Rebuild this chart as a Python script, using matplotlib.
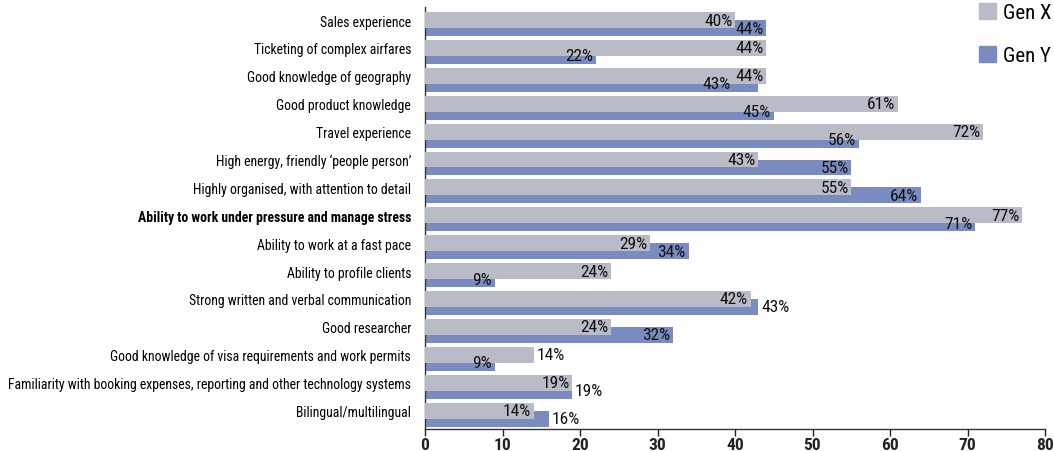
import matplotlib
matplotlib.use("Agg")
import matplotlib.pyplot as plt
from matplotlib import font_manager
from matplotlib.patches import Patch
import numpy as np

categories = [
    "Sales experience",
    "Ticketing of complex airfares",
    "Good knowledge of geography",
    "Good product knowledge",
    "Travel experience",
    "High energy, friendly \u2018people person\u2019",
    "Highly organised, with attention to detail",
    "Ability to work under pressure and manage stress",
    "Ability to work at a fast pace",
    "Ability to profile clients",
    "Strong written and verbal communication",
    "Good researcher",
    "Good knowledge of visa requirements and work permits",
    "Familiarity with booking expenses, reporting and other technology systems",
    "Bilingual/multilingual",
]
gen_x = [40, 44, 44, 61, 72, 43, 55, 77, 29, 24, 42, 24, 14, 19, 14]
gen_y = [44, 22, 43, 45, 56, 55, 64, 71, 34, 9, 43, 32, 9, 19, 16]
series_names = ["Gen X", "Gen Y"]
x_ticks = [0, 10, 20, 30, 40, 50, 60, 70, 80]
highlight = "Ability to work under pressure and manage stress"

# labels that sit just past the end of their bar instead of inside it
outside = {(10, 1), (12, 0), (13, 1), (14, 1)}

# prefer a narrow face; fall back to the default sans
fonts = font_manager.fontManager.ttflist
names = {f.name for f in fonts}
condensed_names = sorted({f.name for f in fonts
                          if ("Narrow" in f.name or "Condensed" in f.name)})
family = None
stretch = "normal"
for cand in ["Liberation Sans Narrow", "Roboto Condensed", "Open Sans Condensed",
             "Noto Sans Condensed", "DejaVu Sans Condensed"]:
    if cand in names:
        family = cand
        break
if family is None and condensed_names:
    family = condensed_names[0]
if family is None:
    for base in ["Roboto", "Noto Sans", "Open Sans", "DejaVu Sans"]:
        if any(f.name == base and str(f.stretch) in ("condensed", "semi-condensed")
               for f in fonts):
            family, stretch = base, "condensed"
            break
if family is None:
    family = "Liberation Sans"
plt.rcParams["font.family"] = [family, "DejaVu Sans"]
plt.rcParams["font.stretch"] = stretch

col_x = "#b9bbc6"
col_y = "#7a8bbf"

fig = plt.figure(figsize=(10.54, 4.52), dpi=100)
ax = fig.add_axes([425 / 1054, 1 - 430 / 452, 620 / 1054, 422 / 452])

pos = np.arange(len(categories))
h = 0.573
off = 0.287
ax.barh(pos + off, gen_y, height=h, color=col_y, zorder=2)
ax.barh(pos, gen_x, height=h, color=col_x, zorder=3)

ax.set_xlim(0, 80)
ax.set_ylim(14.66, -0.466)

# size the category text so the longest one spans about 404 px
renderer = fig.canvas.get_renderer()
probe = fig.text(0, 0, categories[13], fontsize=10)
w10 = probe.get_window_extent(renderer).width
probe.remove()
cat_size = min(10.5, 10 * 404 / w10)
val_size = 12.5

pad = 0.35
labels = {}
for i in range(len(categories)):
    for s, (vals, yy) in enumerate(((gen_x, pos[i]), (gen_y, pos[i] + off))):
        v = vals[i]
        if (i, s) in outside:
            t = ax.text(v + pad, yy, f"{v}%", ha="left", va="center",
                        fontsize=val_size, color="#111111", zorder=5)
        else:
            t = ax.text(v - pad, yy, f"{v}%", ha="right", va="center",
                        fontsize=val_size, color="#111111", zorder=5)
        labels[(i, s)] = t

# where a Gen Y label would collide with the Gen X label, slide it left of it
from_px = ax.transData.inverted()
for i in range(len(categories)):
    bx = labels[(i, 0)].get_window_extent(renderer)
    by = labels[(i, 1)].get_window_extent(renderer)
    if bx.overlaps(by) and (i, 1) not in outside:
        new_right = bx.x0 - 4
        x_data = from_px.transform((new_right, 0))[0]
        labels[(i, 1)].set_x(x_data)

ax.set_xticks(x_ticks)
ax.set_xticklabels([str(t) for t in x_ticks], fontsize=12.5, fontweight="bold")
ax.set_yticks(pos)
ax.set_yticklabels(categories, fontsize=cat_size)
for lab in ax.get_yticklabels():
    if lab.get_text() == highlight:
        lab.set_fontweight("bold")
ax.tick_params(axis="y", length=0, pad=10)
ax.tick_params(axis="x", length=5, width=1, direction="out", pad=1, colors="#222222")
for sp in ("top", "right"):
    ax.spines[sp].set_visible(False)
for sp in ("left", "bottom"):
    ax.spines[sp].set_color("#333333")
    ax.spines[sp].set_linewidth(1)

handles = [Patch(color=col_x), Patch(color=col_y)]
fig.legend(handles, series_names, loc="upper left",
           bbox_to_anchor=(979 / 1054, 1 - 4 / 452), frameon=False,
           fontsize=15, handlelength=0.8, handleheight=0.8,
           handletextpad=0.35, labelspacing=1.15, borderpad=0, borderaxespad=0)

fig.savefig("out.png", dpi=100)
